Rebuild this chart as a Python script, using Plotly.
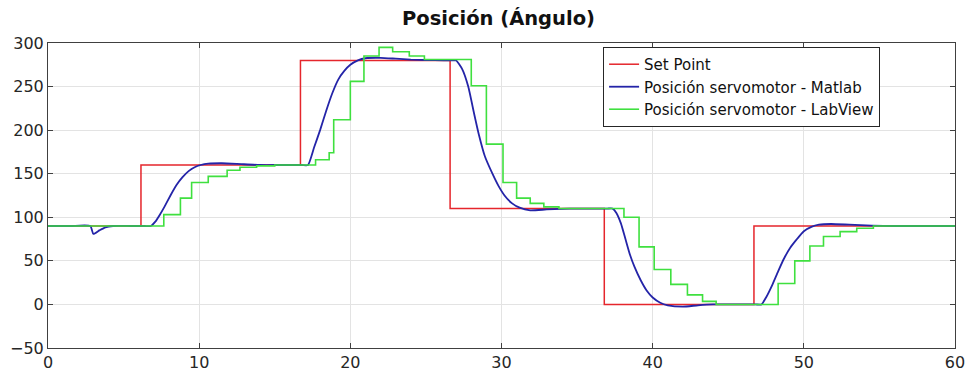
import plotly.graph_objects as go

# Set Point (step changes; value holds until next x)
sp_x = [0, 6.15, 16.7, 26.6, 36.8, 46.7, 60]
sp_y = [90, 160, 280, 110, 0, 90, 90]

# Posición servomotor - Matlab (smooth response)
ml_x = [0, 1.5, 2.8, 3.0, 3.4, 3.8, 4.3, 5.5, 6.4, 6.8, 7.1, 7.4, 7.7, 8.1, 8.5, 8.9, 9.3, 9.7, 10.1, 10.6, 11.5,
        12.5, 14.0, 15.5, 16.8, 17.2, 17.6, 18.0, 18.4, 18.8, 19.2, 19.6, 20.0, 20.5, 21.0, 22.0, 23.0, 24.0,
        25.0, 26.2, 26.8, 27.0, 27.4, 27.8, 28.2, 28.5, 28.9, 29.4, 29.8, 30.2, 30.7, 31.2, 31.9, 33.0, 34.5,
        36.0, 37.0, 37.35, 37.6, 37.9, 38.2, 38.5, 38.8, 39.2, 39.6, 40.0, 40.5, 41.0, 42.0, 43.0, 44.0,
        45.5, 46.8, 47.2, 47.5, 47.9, 48.3, 48.7, 49.1, 49.5, 50.0, 50.5, 51.0, 51.8, 53.0, 54.5, 56.0, 58.0, 60.0]
ml_y = [90, 90, 90, 81, 85, 88.5, 90, 90, 90, 90, 95, 103, 112, 125, 137, 146, 153, 157.5, 160, 161.5, 162,
        161.3, 160, 160, 160, 160, 180, 200, 222, 242, 258, 268, 275, 280, 282.5, 283, 282, 281,
        280.5, 280, 280, 280, 270, 250, 218, 195, 170, 150, 136, 125, 116, 111, 108, 109, 110,
        110, 110, 110, 105, 93, 75, 57, 43, 28, 16, 8, 2, -1, -2.5, -1, 0,
        0, 0, 0, 8, 22, 38, 53, 65, 74, 84, 89, 91.5, 92.3, 91.5, 90.5, 90, 90, 90]

# Posición servomotor - LabView (staircase; value holds until next x)
lv_x = [0, 7.66, 8.76, 9.5, 10.6, 11.85, 12.7, 13.8, 15.0, 17.7, 18.6, 18.9, 20.0, 20.9, 21.9, 22.8,
        23.9, 24.9, 28.0, 29.0, 30.1, 31.0, 31.9, 32.8, 33.8, 38.1, 39.1, 40.1, 41.2, 42.3, 43.3,
        44.2, 48.3, 49.4, 50.4, 51.3, 52.4, 53.5, 54.6, 60]
lv_y = [90, 103, 122, 140, 147, 154, 157.5, 159, 160, 166, 174, 212, 256, 285, 295, 290,
        285, 281, 251, 184, 140, 122, 116, 112, 110, 100, 66, 40, 23, 11, 3.5,
        0, 24, 50, 67, 78, 83.5, 87.5, 90, 90]

x_ticks = [0, 10, 20, 30, 40, 50, 60]
y_ticks = [-50, 0, 50, 100, 150, 200, 250, 300]

FONT = "DejaVu Sans, Liberation Sans, Arial, sans-serif"

fig = go.Figure()
fig.add_trace(go.Scatter(x=sp_x, y=sp_y, mode="lines", name="Set Point",
                         line=dict(color="#e5262c", width=1.5, shape="hv")))
fig.add_trace(go.Scatter(x=ml_x, y=ml_y, mode="lines", name="Posición servomotor - Matlab",
                         line=dict(color="#2424a8", width=1.8, shape="spline", smoothing=0.5)))
fig.add_trace(go.Scatter(x=lv_x, y=lv_y, mode="lines", name="Posición servomotor - LabView",
                         line=dict(color="#3fe03f", width=1.6, shape="hv")))

axis_common = dict(showline=True, mirror="ticks", linecolor="#404040", linewidth=1,
                   ticks="inside", ticklen=5, tickcolor="#404040",
                   showgrid=True, gridcolor="#e3e3e3", gridwidth=1, zeroline=False,
                   automargin=False,
                   tickfont=dict(family=FONT, size=16, color="#262626"))

fig.update_layout(
    width=966, height=377,
    margin=dict(l=48, r=11, t=43, b=29, autoexpand=False),
    paper_bgcolor="white", plot_bgcolor="white",
    title=dict(text="<b>Posición (Ángulo)</b>", x=0.516, xanchor="center", y=0.952, yanchor="middle",
               automargin=False,
               font=dict(family=FONT, size=19.5, color="#111111")),
    xaxis=dict(range=[0, 60], tickvals=x_ticks, **axis_common),
    yaxis=dict(range=[-50, 300], tickvals=y_ticks, **axis_common),
    legend=dict(x=0.612, y=0.987, xanchor="left", yanchor="top",
                bgcolor="white", bordercolor="#262626", borderwidth=1,
                font=dict(family=FONT, size=15, color="#111111"),
                tracegroupgap=0),
    showlegend=True,
)

fig.write_html("out.html",
               config={"displayModeBar": False},
               post_script="document.body.style.margin='0';document.body.style.overflow='hidden';")
